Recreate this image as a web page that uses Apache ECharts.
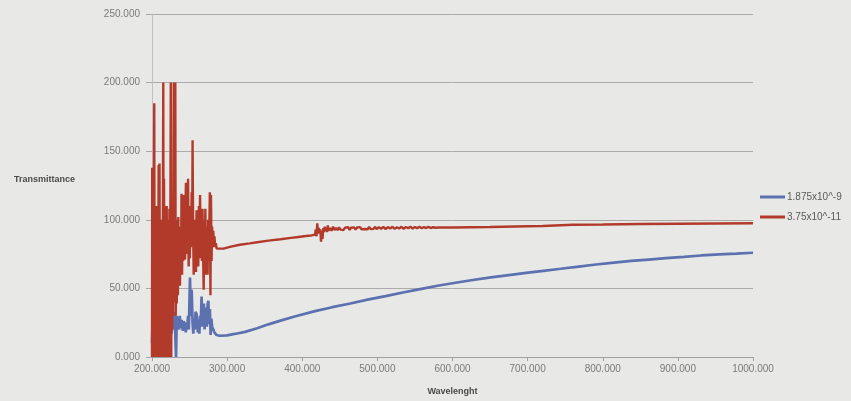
<!DOCTYPE html>
<html>
<head>
<meta charset="utf-8">
<script src="https://cdn.jsdelivr.net/npm/echarts@6/dist/echarts.min.js"></script>
<style>
  html, body { margin: 0; padding: 0; background: #e8e8e6; }
  #chart { width: 851px; height: 401px; }
</style>
</head>
<body>
<div id="chart"></div>
<script>
// Transmittance spectra (%) for two concentrations, wavelength in nm
const seriesNames = ['1.875x10^-9', '3.75x10^-11'];

const blueWl = [
  200, 201, 202, 203, 204, 205, 206, 207, 208, 209, 210, 211, 212, 213, 214, 215, 216, 217, 218, 219, 220,
  221.7, 223, 224, 226, 227, 228, 229, 230, 232, 233, 234, 235, 236, 237, 238, 239.5, 241, 242, 244, 245,
  246, 247, 248, 249, 250.6, 251.5, 252.8, 254, 255, 256, 257, 258, 259.5, 261, 262, 263, 264, 265, 266,
  267, 268, 269, 270, 271, 272, 273, 274, 275, 276, 277, 278, 279, 280, 281.6, 283, 284.5, 286, 290,
  300, 310, 324, 340, 355, 371, 390, 417, 440, 464, 487, 511, 534, 557, 580, 604, 627, 651, 675, 698,
  721, 744, 768, 791, 815, 838, 861, 884, 908, 931, 955, 978, 1000
];
const blueT = [
  10, 30, 5, 25, 0, 20, 8, 30, 2, 22, 5, 35, 0, 28, 10, 32, 3, 25, 12, 38, 15,
  39, 22, 35, 17, 30, 31, 20, 33, 0, 30, 22, 28, 20, 30, 21, 27, 19, 26, 24, 18,
  25, 22, 30, 20, 58, 30, 49, 25, 17, 28, 20, 33, 31, 18, 27, 17, 30, 25, 44,
  22, 35, 39, 20, 34, 36, 22, 38, 41, 24, 35, 16, 28, 22, 20, 18, 19, 16, 15.5,
  15.8, 16.8, 18.3, 21, 23.8, 26.5, 29.5, 33.4, 36.3, 39, 41.8, 44.4, 47, 49.5, 51.9, 54.1, 56.1, 58, 59.7, 61.3,
  62.8, 64.3, 65.9, 67.4, 68.8, 70, 71, 72, 73, 74, 74.8, 75.4, 76
];

const redWl = [
  200, 200.3, 200.7, 201.3, 201.8, 202.5, 203, 203.5, 204, 204.6, 205.2, 205.8, 206.4, 207, 207.6, 208.2,
  208.8, 209.4, 210, 210.5, 211, 211.6, 212.2, 212.8, 213.4, 214, 214.6, 215, 215.5, 216, 216.6, 217.2,
  217.8, 218.4, 219, 219.6, 220.2, 220.8, 221.4, 222, 222.6, 223.2, 223.8, 224.5, 225, 225.6, 226.2, 226.8,
  227.4, 228, 229, 229.6, 230.3, 231, 231.6, 232.3, 233, 233.8, 234.5, 235, 235.8, 236.5, 237.2, 238,
  238.7, 239.3, 240, 240.8, 241.5, 242.3, 243, 244, 244.6, 245.2, 246, 246.8, 247.5, 248, 248.8, 249.6,
  250.4, 251.2, 252, 252.8, 253.5, 254, 254.8, 255.5, 256.3, 257, 257.8, 258.6, 259.3, 260, 260.8, 261.6,
  262.4, 263.2, 264, 264.8, 265.6, 266.4, 267.2, 268, 268.8, 269.5, 270.3, 271, 271.8, 272.5, 273.3, 274,
  274.8, 275.5, 276.3, 277, 277.8, 278.5, 279.3, 280, 280.8, 281.6, 282.4, 283.2, 284, 285, 286, 287,
  295, 305, 317, 330, 340, 355, 371, 385, 395, 405, 412, 417,
  418, 419, 420, 421, 422, 423, 424, 425, 426, 427, 428, 429, 430, 431, 432, 433, 434, 435, 437, 439,
  441, 443, 445, 447, 449, 451, 453, 455, 457, 459, 461, 463, 465, 467, 469, 471, 473, 475, 477, 479,
  481, 483, 485, 487, 489, 491, 493, 495, 497, 499, 502, 505, 508, 511, 514, 517, 520, 523, 526, 529,
  532, 535, 538, 541, 544, 547, 550, 553, 556, 559, 562, 565, 568, 571, 574, 578, 582,
  600, 650, 700, 720, 722, 760, 800, 850, 900, 950, 1000
];
const redT = [
  0, 138, 0, 60, 0, 120, 185, 0, 90, 0, 105, 0, 110, 2, 95, 0,
  140, 0, 141, 0, 80, 0, 100, 0, 92, 0, 120, 200, 0, 130, 0, 110,
  3, 104, 0, 110, 0, 95, 0, 100, 2, 108, 0, 110, 200, 0, 110, 20,
  95, 30, 200, 40, 120, 200, 30, 100, 39, 96, 45, 102, 60, 95, 52, 92,
  70, 119, 60, 100, 70, 118, 75, 71, 110, 127, 75, 115, 80, 130, 66, 105,
  72, 110, 80, 120, 85, 158, 90, 60, 100, 75, 92, 62, 107, 70, 95, 66,
  110, 80, 118, 72, 95, 70, 108, 75, 49, 100, 60, 108, 75, 60, 95, 60,
  100, 70, 95, 120, 45, 118, 70, 95, 82, 92, 80, 88, 80, 83, 79, 77.6,
  79, 80.5, 81.8, 82.8, 83.6, 84.8, 85.8, 86.8, 87.5, 88.2, 88.6, 89.2,
  93, 88, 97.5, 90, 94, 91, 93, 84, 92, 86, 94, 91, 95, 92, 94, 91, 96, 92, 94, 92,
  95, 92.5, 94, 92.5, 94.5, 92.8, 94, 92.6, 94.3, 93, 94.6, 92.7, 94.2, 93.1, 94.5, 92.9, 94.4, 93.2, 94.7, 93,
  94.3, 93.3, 94.6, 93.1, 94.8, 93.2, 94.4, 93.4, 94.9, 93.2, 94.6, 93.5, 94.8, 93.3, 94.7, 93.6, 94.9, 93.4, 94.6, 93.7,
  94.9, 93.5, 94.7, 93.8, 95, 93.6, 94.8, 93.9, 94.9, 93.8, 94.7, 94, 94.8, 94, 94.6, 94.2, 94.4,
  94.4, 94.8, 95.3, 95.5, 96.1, 96.4, 96.6, 96.9, 97.1, 97.3, 97.5
];

// y axis scale and x axis scale
const yMin = 0, yMax = 250, yStep = 50;
const xMin = 200, xMax = 1000, xStep = 100;

const pairs = (xs, ys) => xs.map((x, i) => [x, ys[i]]);

const chart = echarts.init(document.getElementById('chart'), null, { renderer: 'canvas' });
const labelFont = 'Liberation Sans, Arial, sans-serif';

chart.setOption({
  backgroundColor: '#e8e8e6',
  animation: false,
  grid: { left: 152, right: 98, top: 14, bottom: 44, containLabel: false },
  legend: {
    orient: 'vertical',
    left: 755,
    top: 187,
    icon: 'rect',
    itemWidth: 25,
    itemHeight: 3,
    itemGap: 10,
    textStyle: { fontFamily: labelFont, fontSize: 10, color: '#5a5a5a', padding: [0, 0, 0, -3] },
    data: seriesNames
  },
  xAxis: {
    type: 'value',
    min: xMin, max: xMax, interval: xStep,
    name: 'Wavelenght',
    nameLocation: 'middle',
    nameGap: 30,
    nameTextStyle: { fontFamily: labelFont, fontSize: 9, fontWeight: 'bold', color: '#4a4a4a' },
    axisLine: { show: true, lineStyle: { color: '#a0a0a0', width: 1 } },
    axisTick: { show: true, length: 4, lineStyle: { color: '#a0a0a0' } },
    axisLabel: { formatter: v => v.toFixed(3), fontFamily: labelFont, fontSize: 10, color: '#7a7a7a', margin: 7 },
    splitLine: { show: false }
  },
  yAxis: {
    type: 'value',
    min: yMin, max: yMax, interval: yStep,
    name: 'Transmittance',
    nameLocation: 'middle',
    nameRotate: 0,
    nameGap: 77,
    nameTextStyle: { fontFamily: labelFont, fontSize: 9, fontWeight: 'bold', color: '#4a4a4a', verticalAlign: 'bottom', lineHeight: 12 },
    axisLine: { show: true, lineStyle: { color: '#c0c0c0', width: 1 } },
    axisTick: { show: true, length: 6, lineStyle: { color: '#a8a8a8' } },
    axisLabel: { formatter: v => v.toFixed(3), fontFamily: labelFont, fontSize: 10, color: '#7a7a7a', margin: 12 },
    splitLine: { show: true, lineStyle: { color: '#ababab', width: 1 } }
  },
  series: [
    {
      name: seriesNames[0],
      type: 'line',
      data: pairs(blueWl, blueT),
      showSymbol: false,
      color: '#5d70b0',
      lineStyle: { width: 2.7, color: '#5d70b0' }
    },
    {
      name: seriesNames[1],
      type: 'line',
      data: pairs(redWl, redT),
      showSymbol: false,
      color: '#b23a2a',
      lineStyle: { width: 2.4, color: '#b23a2a' }
    }
  ]
});
</script>
</body>
</html>
